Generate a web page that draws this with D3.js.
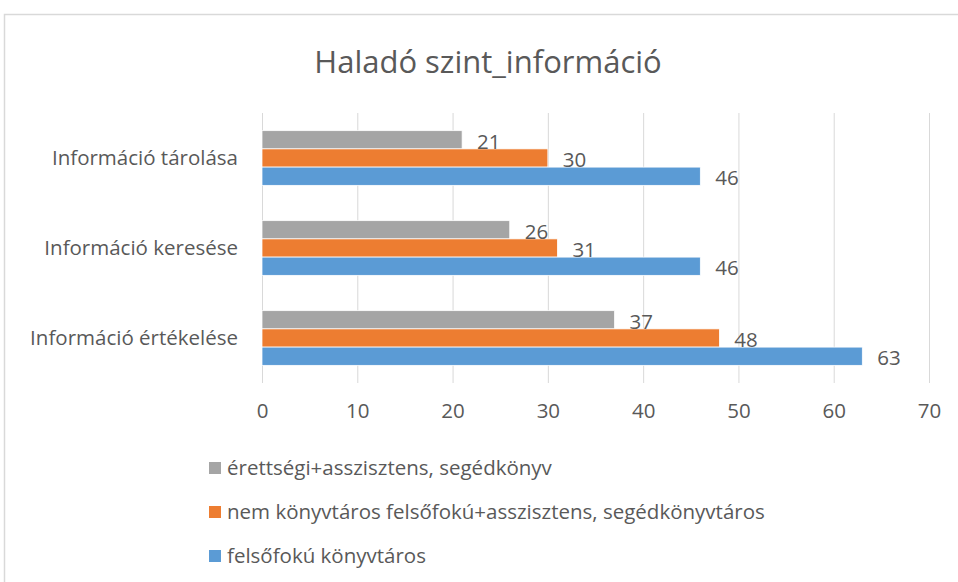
<!DOCTYPE html>
<html>
<head>
<meta charset="utf-8">
<script src="https://cdn.jsdelivr.net/npm/d3@7"></script>
<style>
  body { margin: 0; background: #fff; }
  text { font-family: "Open Sans", sans-serif; fill: #595959; }
</style>
</head>
<body>
<div id="chart"></div>
<script>
var svgWidth = 958;
var svgHeight = 582;

// data
var categories = ["Információ tárolása", "Információ keresése", "Információ értékelése"];
var seriesNames = [
  "érettségi+asszisztens, segédkönyv",
  "nem könyvtáros felsőfokú+asszisztens, segédkönyvtáros",
  "felsőfokú könyvtáros"
];
var seriesColors = ["#a5a5a5", "#ed7d31", "#5b9bd5"];
var grayValues = [21, 26, 37];
var orangeValues = [30, 31, 48];
var blueValues = [46, 46, 63];
var xTicks = [0, 10, 20, 30, 40, 50, 60, 70];

var seriesValues = [grayValues, orangeValues, blueValues];

var plot = { left: 262, right: 929, top: 113, bottom: 383 };

var svg = d3.select("#chart")
  .append("svg")
  .attr("width", svgWidth)
  .attr("height", svgHeight);

// chart frame
svg.append("rect")
  .attr("x", 4.5).attr("y", 14.5)
  .attr("width", 1000).attr("height", 1000)
  .attr("fill", "#fff")
  .attr("stroke", "#d9d9d9")
  .attr("stroke-width", 1.5);

svg.append("text")
  .attr("x", 488).attr("y", 73)
  .attr("text-anchor", "middle")
  .style("font-size", "31px")
  .text("Haladó szint_információ");

var xScale = d3.scaleLinear()
  .domain([0, 70])
  .range([plot.left, plot.right]);

var yScale = d3.scaleBand()
  .domain(categories)
  .range([plot.top, plot.bottom]);

var innerScale = d3.scaleBand()
  .domain(d3.range(seriesNames.length))
  .range([0, yScale.bandwidth()])
  .paddingOuter(0.97)
  .paddingInner(0);

// gridlines + tick labels
var bottomAxis = d3.axisBottom(xScale)
  .tickValues(xTicks)
  .tickSize(-(plot.bottom - plot.top))
  .tickPadding(20);

var axisG = svg.append("g")
  .attr("transform", `translate(0, ${plot.bottom})`)
  .call(bottomAxis);
axisG.select(".domain").remove();
axisG.selectAll("line").attr("stroke", "#d9d9d9");
axisG.selectAll("text")
  .attr("fill", "#595959")
  .style("font-family", "'Open Sans', sans-serif")
  .style("font-size", "20.5px");

// category labels
svg.selectAll(".cat")
  .data(categories)
  .enter()
  .append("text")
  .attr("class", "cat")
  .attr("x", 238)
  .attr("y", d => yScale(d) + yScale.bandwidth() / 2)
  .attr("dy", "0.35em")
  .attr("text-anchor", "end")
  .style("font-size", "20.5px")
  .text(d => d);

// bars
var groups = svg.selectAll(".grp")
  .data(categories)
  .enter()
  .append("g")
  .attr("class", "grp")
  .attr("transform", d => `translate(0, ${yScale(d)})`);

groups.selectAll("rect")
  .data((d, i) => seriesValues.map((vals, s) => ({ s: s, v: vals[i] })))
  .enter()
  .append("rect")
  .attr("x", xScale(0))
  .attr("y", d => innerScale(d.s))
  .attr("width", d => xScale(d.v) - xScale(0))
  .attr("height", innerScale.bandwidth())
  .attr("fill", d => seriesColors[d.s])
  .attr("stroke", "#fff")
  .attr("stroke-width", 0.75);

groups.selectAll(".lbl")
  .data((d, i) => seriesValues.map((vals, s) => ({ s: s, v: vals[i] })))
  .enter()
  .append("text")
  .attr("class", "lbl")
  .attr("x", d => xScale(d.v) + 15)
  .attr("y", d => innerScale(d.s) + innerScale.bandwidth() / 2 + 2)
  .attr("dy", "0.35em")
  .style("font-size", "20.5px")
  .text(d => d.v);

// legend
var legend = svg.selectAll(".leg")
  .data(seriesNames)
  .enter()
  .append("g")
  .attr("class", "leg")
  .attr("transform", (d, i) => `translate(209, ${468 + i * 44})`);

legend.append("rect")
  .attr("x", 0).attr("y", -6)
  .attr("width", 12).attr("height", 12)
  .attr("fill", (d, i) => seriesColors[i]);

legend.append("text")
  .attr("x", 18)
  .attr("dy", "0.35em")
  .style("font-size", "20.5px")
  .text(d => d);
</script>
</body>
</html>
